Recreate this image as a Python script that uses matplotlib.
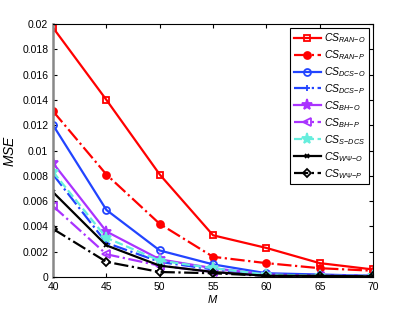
import numpy as np
from matplotlib import pyplot as plt

plt.rcParams["font.family"] = ["Liberation Sans", "DejaVu Sans"]
plt.rcParams["mathtext.fontset"] = "custom"
plt.rcParams["mathtext.it"] = "Liberation Sans:italic"
plt.rcParams["mathtext.rm"] = "Liberation Sans"

M = [40, 45, 50, 55, 60, 65, 70]

ran_o = [0.0197, 0.0140, 0.0081, 0.0033, 0.0023, 0.0011, 0.0006]
ran_p = [0.0131, 0.0081, 0.0042, 0.0016, 0.0011, 0.0007, 0.0005]
dcs_o = [0.0120, 0.0053, 0.0021, 0.0010, 0.0003, 0.0002, 0.0001]
dcs_p = [0.0081, 0.0027, 0.0012, 0.0006, 0.0002, 0.0001, 0.0001]
bh_o = [0.0090, 0.0036, 0.0014, 0.0007, 0.0002, 0.0001, 0.0001]
bh_p = [0.0056, 0.0018, 0.0009, 0.0004, 0.0001, 0.0001, 0.00005]
s_dcs = [0.0083, 0.0031, 0.0013, 0.0007, 0.0002, 0.0001, 0.0001]
wp_o = [0.0067, 0.0025, 0.0009, 0.0004, 0.0001, 0.0001, 0.00005]
wp_p = [0.0038, 0.0012, 0.0004, 0.0003, 0.0001, 0.00005, 0.00005]

# data, label, colour, linestyle, marker, marker size, marker face
series = [
    (ran_o, r"$\mathit{CS}_{\mathit{RAN\!-\!O}}$", "#ff0000", "-", "s", 5, "none"),
    (ran_p, r"$\mathit{CS}_{\mathit{RAN\!-\!P}}$", "#ff0000", "-.", "o", 5, "#ff0000"),
    (dcs_o, r"$\mathit{CS}_{\mathit{DCS\!-\!O}}$", "#2244ff", "-", "o", 5, "none"),
    (dcs_p, r"$\mathit{CS}_{\mathit{DCS\!-\!P}}$", "#2244ff", "-.", "+", 5, "#2244ff"),
    (bh_o, r"$\mathit{CS}_{\mathit{BH\!-\!O}}$", "#aa33ff", "-", "*", 8, "#aa33ff"),
    (bh_p, r"$\mathit{CS}_{\mathit{BH\!-\!P}}$", "#aa33ff", "-.", "<", 6, "none"),
    (s_dcs, r"$\mathit{CS}_{\mathit{S\!-\!DCS}}$", "#66eedd", "--", "*", 8, "#66eedd"),
    (wp_o, r"$\mathit{CS}_{\mathit{W\Psi\!-\!O}}$", "#000000", "-", "x", 3.5, "#000000"),
    (wp_p, r"$\mathit{CS}_{\mathit{W\Psi\!-\!P}}$", "#000000", "-.", "D", 4.5, "none"),
]

fig = plt.figure(figsize=(4.15, 3.12), dpi=100)
ax = fig.add_axes([0.128, 0.112, 0.771, 0.811])

for vals, label, color, ls, marker, ms, mfc in series:
    ax.plot(M, vals, color=color, linestyle=ls, linewidth=1.6, marker=marker,
            markersize=ms, markerfacecolor=mfc, markeredgecolor=color,
            markeredgewidth=1.3, label=label)

ax.set_xlim(40, 70)
ax.set_ylim(0, 0.02)
ax.set_xticks(M)
ax.set_yticks(np.arange(0, 0.0201, 0.002))
ax.set_yticklabels(["0", "0.002", "0.004", "0.006", "0.008", "0.01", "0.012",
                    "0.014", "0.016", "0.018", "0.02"])
ax.tick_params(direction="in", top=True, right=True, labelsize=7.5, length=3)
ax.spines["left"].set_color("#888888")
ax.spines["left"].set_linewidth(1.8)
ax.set_xlabel(r"$\mathit{M}$", fontsize=8, labelpad=1)
ax.set_ylabel(r"$\mathit{MSE}$", fontsize=10, labelpad=4)

leg = ax.legend(loc="upper right", fontsize=7.5, fancybox=False, framealpha=1,
                edgecolor="black", handlelength=2.6, labelspacing=0.3,
                borderpad=0.35, handletextpad=0.3, borderaxespad=0.35)
leg.get_frame().set_linewidth(0.8)

plt.savefig("out.png", dpi=100)
plt.close(fig)
